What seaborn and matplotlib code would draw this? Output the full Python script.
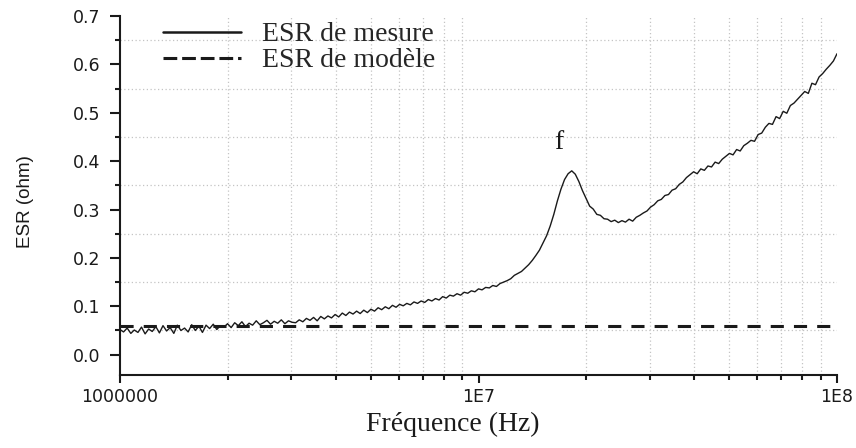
import numpy as np
import pandas as pd
import matplotlib
matplotlib.use("Agg")
import matplotlib.pyplot as plt
from matplotlib.lines import Line2D
from matplotlib.ticker import FixedLocator, FixedFormatter, LogLocator, MultipleLocator, NullFormatter
import seaborn as sns

# fréquences (MHz), pas de 0.01 décade
freq_mhz = [
    1.000, 1.023, 1.047, 1.072, 1.096, 1.122, 1.148, 1.175, 1.202, 1.230,
    1.259, 1.288, 1.318, 1.349, 1.380, 1.413, 1.445, 1.479, 1.514, 1.549,
    1.585, 1.622, 1.660, 1.698, 1.738, 1.778, 1.820, 1.862, 1.905, 1.950,
    1.995, 2.042, 2.089, 2.138, 2.188, 2.239, 2.291, 2.344, 2.399, 2.455,
    2.512, 2.570, 2.630, 2.692, 2.754, 2.818, 2.884, 2.951, 3.020, 3.090,
    3.162, 3.236, 3.311, 3.388, 3.467, 3.548, 3.631, 3.715, 3.802, 3.890,
    3.981, 4.074, 4.169, 4.266, 4.365, 4.467, 4.571, 4.677, 4.786, 4.898,
    5.012, 5.129, 5.248, 5.370, 5.495, 5.623, 5.754, 5.888, 6.026, 6.166,
    6.310, 6.457, 6.607, 6.761, 6.918, 7.079, 7.244, 7.413, 7.586, 7.762,
    7.943, 8.128, 8.318, 8.511, 8.710, 8.913, 9.120, 9.333, 9.550, 9.772,
    10.00, 10.23, 10.47, 10.72, 10.96, 11.22, 11.48, 11.75, 12.02, 12.30,
    12.59, 12.88, 13.18, 13.49, 13.80, 14.13, 14.45, 14.79, 15.14, 15.49,
    15.85, 16.22, 16.60, 16.98, 17.38, 17.78, 18.20, 18.62, 19.05, 19.50,
    19.95, 20.42, 20.89, 21.38, 21.88, 22.39, 22.91, 23.44, 23.99, 24.55,
    25.12, 25.70, 26.30, 26.92, 27.54, 28.18, 28.84, 29.51, 30.20, 30.90,
    31.62, 32.36, 33.11, 33.88, 34.67, 35.48, 36.31, 37.15, 38.02, 38.90,
    39.81, 40.74, 41.69, 42.66, 43.65, 44.67, 45.71, 46.77, 47.86, 48.98,
    50.12, 51.29, 52.48, 53.70, 54.95, 56.23, 57.54, 58.88, 60.26, 61.66,
    63.10, 64.57, 66.07, 67.61, 69.18, 70.79, 72.44, 74.13, 75.86, 77.62,
    79.43, 81.28, 83.18, 85.11, 87.10, 89.13, 91.20, 93.33, 95.50, 97.72,
    100.0,
]

esr_mesure = [
    0.052, 0.047, 0.055, 0.044, 0.051, 0.046, 0.057, 0.043, 0.053, 0.048,
    0.058, 0.045, 0.060, 0.049, 0.056, 0.044, 0.061, 0.050, 0.055, 0.047,
    0.062, 0.050, 0.059, 0.046, 0.061, 0.054, 0.063, 0.052, 0.060, 0.057,
    0.064, 0.056, 0.066, 0.060, 0.068, 0.058, 0.065, 0.061, 0.070, 0.062,
    0.066, 0.071, 0.063, 0.069, 0.065, 0.072, 0.064, 0.070, 0.067, 0.066,
    0.072, 0.068, 0.075, 0.071, 0.077, 0.070, 0.079, 0.074, 0.080, 0.076,
    0.083, 0.078, 0.086, 0.081, 0.088, 0.084, 0.090, 0.085, 0.092, 0.087,
    0.094, 0.090, 0.097, 0.093, 0.099, 0.095, 0.102, 0.098, 0.104, 0.101,
    0.106, 0.103, 0.109, 0.106, 0.111, 0.108, 0.114, 0.111, 0.116, 0.113,
    0.120, 0.117, 0.123, 0.121, 0.126, 0.123, 0.129, 0.127, 0.132, 0.130,
    0.136, 0.134, 0.139, 0.138, 0.143, 0.141, 0.147, 0.150, 0.153, 0.157,
    0.164, 0.168, 0.172, 0.179, 0.186, 0.195, 0.205, 0.216, 0.231, 0.246,
    0.266, 0.290, 0.318, 0.342, 0.362, 0.374, 0.380, 0.373, 0.358, 0.339,
    0.323, 0.307, 0.301, 0.290, 0.288, 0.281, 0.280, 0.275, 0.278, 0.273,
    0.277, 0.274, 0.280, 0.276, 0.284, 0.288, 0.293, 0.297, 0.305, 0.310,
    0.318, 0.321, 0.329, 0.331, 0.340, 0.343, 0.352, 0.357, 0.366, 0.372,
    0.378, 0.374, 0.384, 0.381, 0.390, 0.388, 0.398, 0.395, 0.404, 0.410,
    0.416, 0.413, 0.424, 0.421, 0.432, 0.437, 0.443, 0.441, 0.455, 0.458,
    0.470, 0.478, 0.476, 0.492, 0.488, 0.503, 0.499, 0.515, 0.520, 0.528,
    0.536, 0.544, 0.540, 0.561, 0.558, 0.574, 0.581, 0.590, 0.598, 0.607,
    0.622,
]

# ESR du modèle (constante)
freq_modele_mhz = [1.0, 100.0]
esr_modele = [0.06, 0.06]

labels_serie = ["ESR de mesure", "ESR de modèle"]
xticks_major = [1e6, 1e7, 1e8]
xtick_labels = ["1000000", "1E7", "1E8"]
yticks_major = [0.0, 0.1, 0.2, 0.3, 0.4, 0.5, 0.6, 0.7]

mesure = pd.DataFrame({"f": np.array(freq_mhz) * 1e6, "esr": esr_mesure})
modele = pd.DataFrame({"f": np.array(freq_modele_mhz) * 1e6, "esr": esr_modele})

sns.set_style("ticks")
plt.rcParams["font.family"] = ["DejaVu Sans"]
serif = "Liberation Serif"
ink = "#1a1a1a"

fig = plt.figure(figsize=(8.56, 4.48), dpi=100)
ax = fig.add_axes([120 / 856, 1 - 375 / 448, 717 / 856, 359 / 448])

sns.lineplot(data=mesure, x="f", y="esr", ax=ax, color=ink, lw=1.0)
sns.lineplot(data=modele, x="f", y="esr", ax=ax, color=ink, lw=2.2,
             linestyle=(0, (4.3, 3.3)))

ax.set_xscale("log")
ax.set_xlim(1e6, 1e8)
ax.set_ylim(-0.042, 0.7)

ax.xaxis.set_major_locator(FixedLocator(xticks_major))
ax.xaxis.set_major_formatter(FixedFormatter(xtick_labels))
ax.xaxis.set_minor_locator(LogLocator(base=10, subs=np.arange(2, 10)))
ax.xaxis.set_minor_formatter(NullFormatter())
ax.yaxis.set_major_locator(FixedLocator(yticks_major))
ax.yaxis.set_minor_locator(MultipleLocator(0.05))
ax.set_yticklabels([f"{v:.1f}" for v in yticks_major])

for s in ["top", "right"]:
    ax.spines[s].set_visible(False)
for s in ["left", "bottom"]:
    ax.spines[s].set_linewidth(1.5)
    ax.spines[s].set_color(ink)

ax.tick_params(axis="y", which="major", length=7, width=1.5, pad=7, labelsize=12.5, colors=ink)
ax.tick_params(axis="x", which="major", length=6, width=1.5, pad=3.5, labelsize=12.5, colors=ink)
ax.tick_params(which="minor", length=3.5, width=1.5, colors=ink)

ax.grid(False)
ax.grid(which="minor", linestyle=(0, (1, 2)), color="#c4c4c4", linewidth=0.9)
ax.set_axisbelow(True)

ax.set_xlabel("Fréquence (Hz)", family=serif, fontsize=20, color=ink)
ax.xaxis.set_label_coords((453 - 120) / 717, (375 - 412) / 359)
ax.set_ylabel("ESR (ohm)", family="Liberation Sans", fontsize=13.5, color=ink)
ax.yaxis.set_label_coords((34 - 120) / 717, (375 - 202) / 359)

# annotation du pic
ax.text(1.68e7, 0.438, "f", family=serif, fontsize=20, ha="center", va="center", color=ink)

handles = [
    Line2D([], [], color=ink, lw=1.8),
    Line2D([], [], color=ink, lw=2.2, linestyle=(0, (4.5, 1.6))),
]
ax.legend(handles, labels_serie, loc="upper left", bbox_to_anchor=(163 / 856, 1 - 22 / 448),
          bbox_transform=fig.transFigure, frameon=False, borderpad=0, borderaxespad=0,
          handlelength=2.8, handletextpad=0.75, labelspacing=0.02,
          prop={"family": serif, "size": 20})

plt.savefig("out.png", dpi=100)
